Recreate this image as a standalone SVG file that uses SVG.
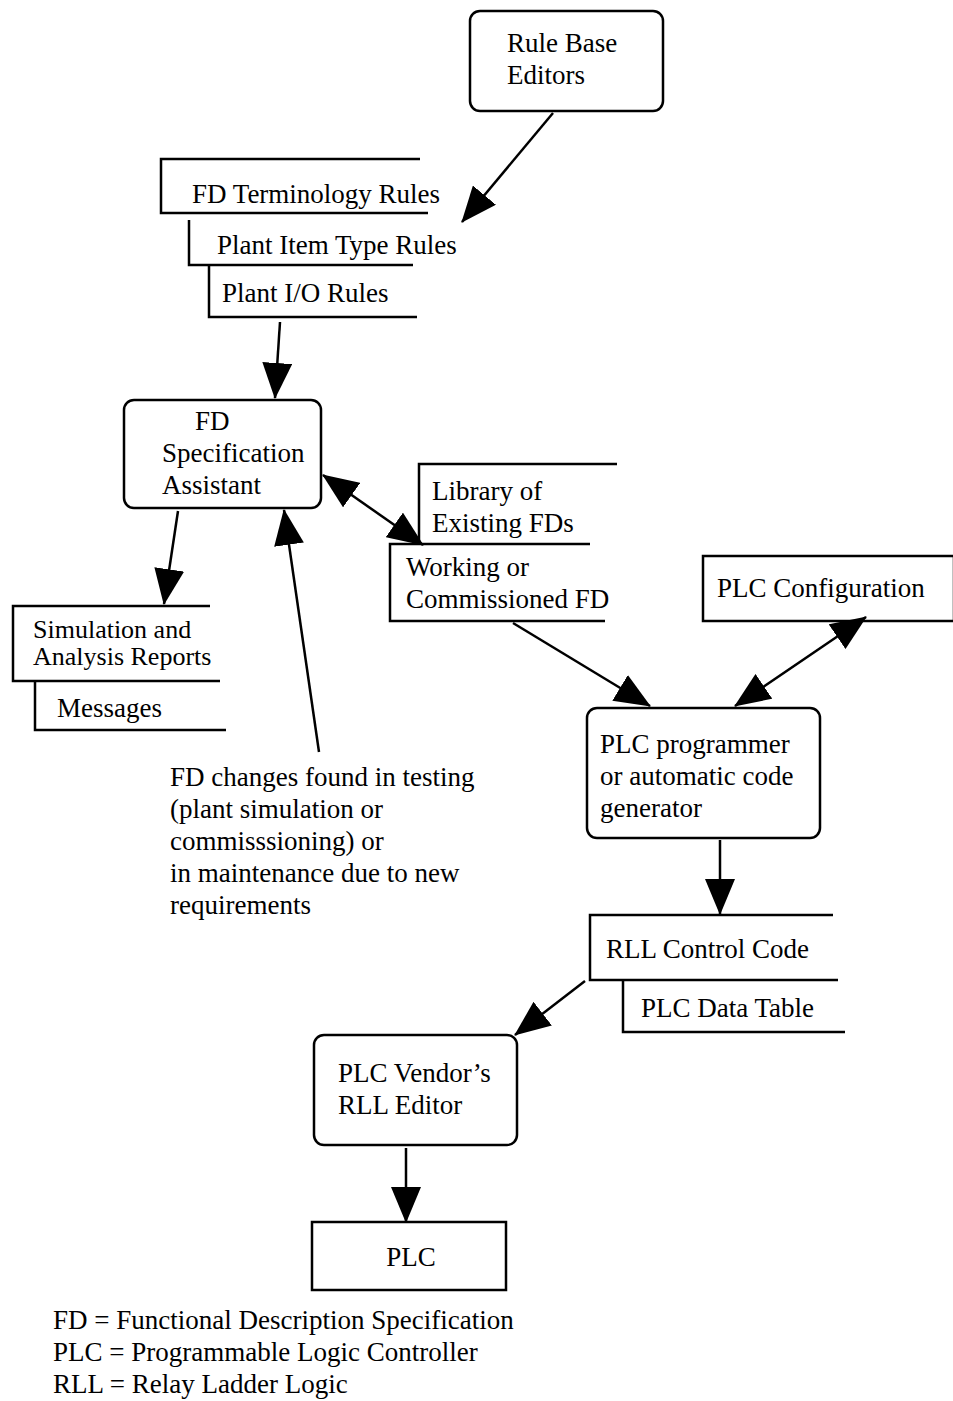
<svg xmlns="http://www.w3.org/2000/svg" width="953" height="1401" viewBox="0 0 953 1401">
<defs>
<style>
text{font-family:"Liberation Serif","Times New Roman",serif;font-size:27px;fill:#000}
.box{fill:#fff;stroke:#000;stroke-width:2.5}
.br{fill:none;stroke:#000;stroke-width:2.5}
.c{fill:none;stroke:#000;stroke-width:2.5}
</style>
<marker id="ah" viewBox="0 0 36 30" refX="35" refY="15" markerWidth="36" markerHeight="30" markerUnits="userSpaceOnUse" orient="auto-start-reverse">
<path d="M0,0 L36,15 L0,30 z" fill="#000"/>
</marker>
</defs>
<rect width="953" height="1401" fill="#fff"/>

<g id="rule-base-editors">
<rect class="box" x="470" y="11" width="193" height="100" rx="10"/>
<text x="507" y="52">Rule Base</text>
<text x="507" y="84">Editors</text>
</g>

<g id="fd-terminology-rules">
<path class="br" d="M420,159 H161 V213 H428"/>
<text x="192" y="203">FD Terminology Rules</text>
</g>
<g id="plant-item-type-rules">
<path class="br" d="M189,220 V265 H413"/>
<text x="217" y="254">Plant Item Type Rules</text>
</g>
<g id="plant-io-rules">
<path class="br" d="M209,265 V317 H417"/>
<text x="222" y="302">Plant I/O Rules</text>
</g>

<g id="fd-specification-assistant">
<rect class="box" x="124" y="400" width="197" height="108" rx="10"/>
<text x="195" y="430">FD</text>
<text x="162" y="462">Specification</text>
<text x="162" y="494">Assistant</text>
</g>

<g id="library-existing-fds">
<path class="br" d="M617,464 H419 V544"/>
<text x="432" y="500">Library of</text>
<text x="432" y="532">Existing FDs</text>
</g>
<g id="working-commissioned-fd">
<path class="br" d="M590,544 H390 V621 H605"/>
<text x="406" y="576">Working or</text>
<text x="406" y="608">Commissioned FD</text>
</g>

<g id="simulation-reports">
<path class="br" d="M210,606 H13 V681 H220"/>
<text x="33" y="638" style="font-size:26px">Simulation and</text>
<text x="33" y="665" style="font-size:26px">Analysis Reports</text>
</g>
<g id="messages">
<path class="br" d="M35,681 V730 H226"/>
<text x="57" y="717">Messages</text>
</g>

<g id="fd-changes-note">
<text x="170" y="786">FD changes found in testing</text>
<text x="170" y="818">(plant simulation or</text>
<text x="170" y="850">commisssioning) or</text>
<text x="170" y="882">in maintenance due to new</text>
<text x="170" y="914">requirements</text>
</g>

<g id="plc-configuration">
<rect class="box" x="703" y="556" width="251" height="65"/>
<text x="717" y="597">PLC Configuration</text>
</g>

<g id="plc-programmer">
<rect class="box" x="587" y="708" width="233" height="130" rx="10"/>
<text x="600" y="753">PLC programmer</text>
<text x="600" y="785">or automatic code</text>
<text x="600" y="817">generator</text>
</g>

<g id="rll-control-code">
<path class="br" d="M833,915 H590 V980 H838"/>
<text x="606" y="958">RLL Control Code</text>
</g>
<g id="plc-data-table">
<path class="br" d="M623,980 V1032 H845"/>
<text x="641" y="1017">PLC Data Table</text>
</g>

<g id="plc-vendor-rll-editor">
<rect class="box" x="314" y="1035" width="203" height="110" rx="10"/>
<text x="338" y="1082">PLC Vendor’s</text>
<text x="338" y="1114">RLL Editor</text>
</g>

<g id="plc">
<rect class="box" x="312" y="1222" width="194" height="68"/>
<text x="411" y="1266" text-anchor="middle">PLC</text>
</g>

<g id="legend">
<text x="53" y="1329">FD = Functional Description Specification</text>
<text x="53" y="1361">PLC = Programmable Logic Controller</text>
<text x="53" y="1393">RLL = Relay Ladder Logic</text>
</g>

<g id="connectors">
<line class="c" x1="553" y1="113" x2="462" y2="222" marker-end="url(#ah)"/>
<line class="c" x1="280" y1="322" x2="275" y2="398" marker-end="url(#ah)"/>
<line class="c" x1="323" y1="475" x2="423" y2="545" marker-start="url(#ah)" marker-end="url(#ah)"/>
<line class="c" x1="178" y1="511" x2="164" y2="604" marker-end="url(#ah)"/>
<line class="c" x1="319" y1="752" x2="284" y2="510" marker-end="url(#ah)"/>
<line class="c" x1="513" y1="623" x2="650" y2="706" marker-end="url(#ah)"/>
<line class="c" x1="866" y1="617" x2="735" y2="706" marker-start="url(#ah)" marker-end="url(#ah)"/>
<line class="c" x1="720" y1="840" x2="720" y2="914" marker-end="url(#ah)"/>
<line class="c" x1="585" y1="981" x2="515" y2="1035" marker-end="url(#ah)"/>
<line class="c" x1="406" y1="1148" x2="406" y2="1222" marker-end="url(#ah)"/>
</g>
</svg>
